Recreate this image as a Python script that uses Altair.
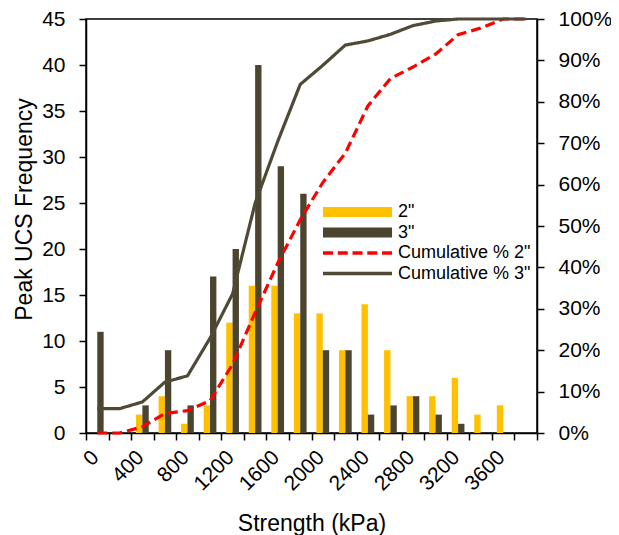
import altair as alt
import pandas as pd

# ---- data ----
bins = [0, 200, 400, 600, 800, 1000, 1200, 1400, 1600, 1800,
        2000, 2200, 2400, 2600, 2800, 3000, 3200, 3400, 3600, 3800]
freq_2in = [0, 0, 2, 4, 1, 3, 12, 16, 16, 13, 13, 9, 14, 9, 4, 4, 6, 2, 3, 0]
freq_3in = [11, 0, 3, 9, 3, 17, 20, 40, 29, 26, 9, 9, 2, 3, 4, 2, 1, 0, 0, 0]
cum_2in = [0, 0, 1.5, 4.7, 5.4, 7.8, 16.6, 29.1, 41.0, 51.5,
           60.5, 67.6, 79.0, 85.6, 88.4, 91.5, 96.2, 97.8, 100, 100]
cum_3in = [5.9, 5.9, 7.5, 12.3, 13.8, 22.9, 33.6, 55.5, 70.4, 84.2,
           88.8, 93.7, 94.7, 96.3, 98.4, 99.5, 100, 100, 100, 100]

series_names = ['2"', '3"', 'Cumulative % 2"', 'Cumulative % 3"']
series_colors = ['#FFC000', '#4B4530', '#FF0000', '#4F4A36']

bars_df = pd.DataFrame(
    {"bin": bins * 2,
     "count": freq_2in + freq_3in,
     "series": [series_names[0]] * len(bins) + [series_names[1]] * len(bins)}
)
lines_df = pd.DataFrame(
    {"bin": bins * 2,
     "pct": cum_2in + cum_3in,
     "series": [series_names[2]] * len(bins) + [series_names[3]] * len(bins)}
)

FONT = "Liberation Sans"

color_scale = alt.Scale(domain=series_names, range=series_colors)

bar_path = "M-1,-0.56H6.67V0.56H-1Z"
solid_path = "M-1,-0.19H6.67V0.19H-1Z"
dash_path = ("M-1,-0.19H0.11V0.19H-1Z M0.64,-0.19H1.75V0.19H0.64Z "
             "M2.28,-0.19H3.39V0.19H2.28Z M3.92,-0.19H5.03V0.19H3.92Z "
             "M5.56,-0.19H6.67V0.19H5.56Z")

legend = alt.Legend(
    title=None,
    orient="none",
    legendX=237,
    legendY=184,
    padding=0,
    labelFont=FONT,
    labelFontSize=18,
    labelColor="black",
    symbolSize=324,
    symbolStrokeWidth=0,
    symbolOffset=0,
    labelOffset=57,
    rowPadding=2.5,
    symbolOpacity=1,
    symbolType={"expr": f"datum.index < 2 ? '{bar_path}' : (datum.index == 2 ? '{dash_path}' : '{solid_path}')"},
)

x_enc = alt.X(
    "bin:O",
    scale=alt.Scale(paddingInner=0, paddingOuter=0),
    axis=alt.Axis(
        title="Strength (kPa)",
        labelAngle=-45,
        labelAlign="right",
        labelBaseline="middle",
        labelExpr="datum.value % 400 == 0 ? datum.value : ''",
        labelOverlap=False,
        labelPadding=14,
        labelOffset=-2,
        tickBand="extent",
        tickSize=7,
        titleY=97,
        titleBaseline="alphabetic",
    ),
)

bars = alt.Chart(bars_df).mark_bar().encode(
    x=x_enc,
    xOffset=alt.XOffset(
        "series:N",
        scale=alt.Scale(domain=series_names[:2], paddingInner=0, paddingOuter=0.77),
    ),
    y=alt.Y(
        "count:Q",
        scale=alt.Scale(domain=[0, 45], nice=False),
        axis=alt.Axis(
            title="Peak UCS Frequency",
            values=list(range(0, 46, 5)),
            tickSize=7,
            labelPadding=14,
            titleX=-55,
            titleY=190,
            titleBaseline="alphabetic",
        ),
    ),
    color=alt.Color("series:N", scale=color_scale, legend=legend),
)

lines = alt.Chart(lines_df).mark_line(strokeWidth=3.2).encode(
    x=alt.X("bin:O"),
    y=alt.Y(
        "pct:Q",
        scale=alt.Scale(domain=[0, 100], nice=False),
        axis=alt.Axis(
            title=None,
            orient="right",
            values=list(range(0, 101, 10)),
            labelExpr="datum.value + '%'",
            tickSize=7,
            labelPadding=14,
        ),
    ),
    color=alt.Color("series:N", scale=color_scale, legend=legend),
    strokeDash=alt.StrokeDash(
        "series:N",
        scale=alt.Scale(domain=series_names[2:], range=[[10, 5], [1, 0]]),
        legend=None,
    ),
)

chart = (
    alt.layer(bars, lines)
    .resolve_scale(y="independent")
    .properties(
        width=451,
        height=414,
        autosize=alt.AutoSizeParams(type="none"),
        padding={"left": 78, "top": 11, "right": 74, "bottom": 110},
    )
    .configure_view(stroke="black", strokeWidth=1.5)
    .configure_axis(
        grid=False,
        labelFont=FONT,
        titleFont=FONT,
        labelFontSize=21,
        titleFontSize=23,
        titleFontWeight="normal",
        labelColor="black",
        titleColor="black",
        domainColor="black",
        tickColor="black",
        domainWidth=1.5,
        tickWidth=1.5,
    )
)

chart.save("out.html", embed_options={"renderer": "svg", "actions": False})
